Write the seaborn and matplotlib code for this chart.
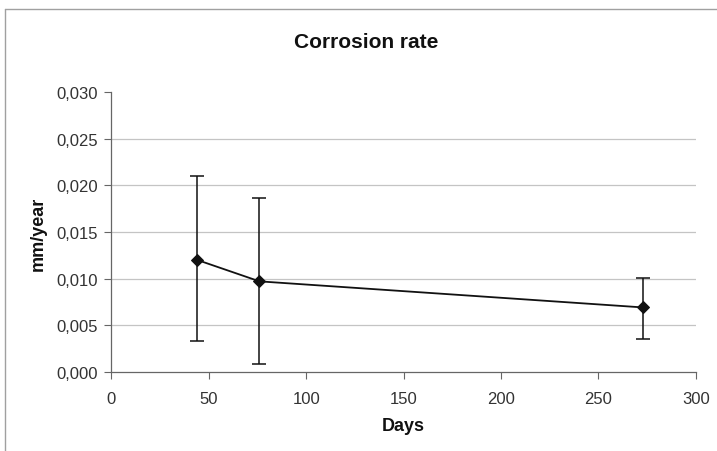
import matplotlib
matplotlib.use("Agg")
import matplotlib.pyplot as plt
import seaborn as sns
import pandas as pd
import numpy as np
from matplotlib.ticker import FuncFormatter

days = [44, 76, 273]
rate = [0.0120, 0.0097, 0.0069]
err_low = [0.0033, 0.0008, 0.0035]
err_high = [0.0210, 0.0187, 0.0101]

sns.set_theme(style="white")
plt.rcParams['font.family'] = ['Liberation Sans', 'DejaVu Sans']

W, H = 717, 452
fig = plt.figure(figsize=(W / 100, H / 100), dpi=100)
ax = fig.add_axes([111.5 / W, 1 - 372.7 / H, (695.7 - 111.5) / W, (372.7 - 93.3) / H])

df = pd.DataFrame({"Days": days, "rate": rate})
yerr = np.array([np.array(rate) - np.array(err_low), np.array(err_high) - np.array(rate)])
ax.errorbar(days, rate, yerr=yerr, fmt="none", ecolor="#111111", elinewidth=1.1,
            capsize=5, capthick=1.1, zorder=3)
sns.lineplot(data=df, x="Days", y="rate", ax=ax, color="#111111", marker="D",
             markersize=6, linewidth=1.3, markeredgecolor="#111111", zorder=4)

ax.set_xlim(0, 300)
ax.set_ylim(0, 0.030)
ax.set_xticks([0, 50, 100, 150, 200, 250, 300])
yt = np.arange(0, 0.0301, 0.005)
ax.set_yticks(yt)
ax.yaxis.set_major_formatter(FuncFormatter(lambda v, p: f"{v:.3f}".replace(".", ",")))
ax.xaxis.grid(False)
ax.yaxis.grid(False)
for v in yt[1:-1]:
    ax.axhline(v, color="#c4c4c4", linewidth=0.9, zorder=1)
for s in ["top", "right"]:
    ax.spines[s].set_visible(False)
for s in ["left", "bottom"]:
    ax.spines[s].set_color("#666666")
    ax.spines[s].set_linewidth(0.9)
ax.tick_params(axis="both", which="major", direction="out", length=5, width=0.8,
               color="#666666", labelsize=12, labelcolor="#333333",
               bottom=True, left=True)
ax.tick_params(axis="y", pad=5)
ax.tick_params(axis="x", pad=9)
ax.set_xlabel("Days", fontsize=13, fontweight="bold", color="#111111")
ax.set_ylabel("mm/year", fontsize=13, fontweight="bold", color="#111111")
ax.xaxis.set_label_coords(403 / W, 1 - 427 / H, transform=fig.transFigure)
ax.yaxis.set_label_coords(38.5 / W, 1 - 234 / H, transform=fig.transFigure)
ax.xaxis.label.set_va("center")
ax.yaxis.label.set_va("center")
fig.text(366 / W, 1 - 42 / H, "Corrosion rate", ha="center", va="center",
         fontsize=15, fontweight="bold", color="#111111")

# chart frame
fig.add_artist(plt.Line2D([5 / W, 5 / W], [0, 1 - 10 / H], color="#a0a0a0", linewidth=1))
fig.add_artist(plt.Line2D([5 / W, 1], [1 - 10 / H, 1 - 10 / H], color="#a0a0a0", linewidth=1))

fig.savefig("out.png", dpi=100)
